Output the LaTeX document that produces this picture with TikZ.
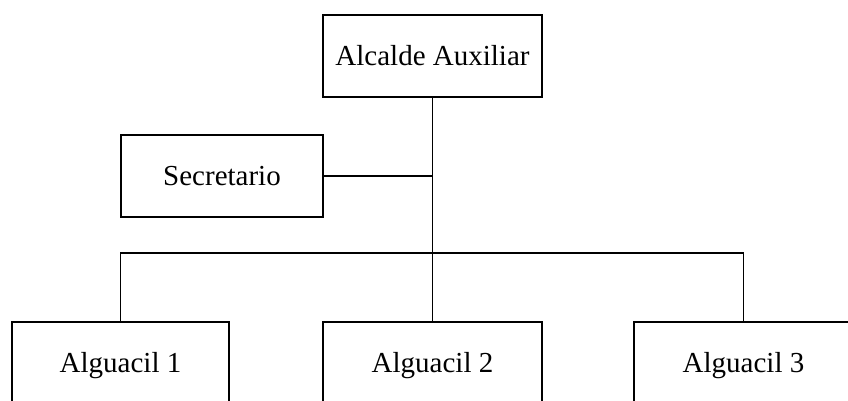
\documentclass[tikz,border=0pt]{standalone}
\usepackage{fontspec}
\setmainfont{Liberation Serif}
\begin{document}
\begin{tikzpicture}[x=1pt,y=-1pt,
  orgbox/.style={draw=black,line width=1.3pt,inner sep=0pt,minimum width=219pt,minimum height=82pt,
    text height=19.5pt,text depth=0pt,font=\fontsize{29}{35}\selectfont},
  conn/.style={draw=black,line width=1.3pt}]
\useasboundingbox (0,0) rectangle (848,400);
\clip (0,0) rectangle (848,400);
\fill[white] (0,0) rectangle (848,400);
\node[orgbox] (top) at (432.5,56) {Alcalde Auxiliar};
\node[orgbox,minimum width=202pt] (sec) at (222,176) {Secretario};
\node[orgbox,minimum width=217pt] (a1) at (120.5,363) {Alguacil 1};
\node[orgbox] (a2) at (432.5,363) {Alguacil 2};
\node[orgbox] (a3) at (743.5,363) {Alguacil 3};
\coordinate (bar) at (432.5,253);
\draw[conn] (top.south) -- (a2.north);
\draw[conn] (sec.east) -- (sec.east -| top.south);
\draw[conn] (a1.north) |- (bar) -| (a3.north);
\end{tikzpicture}
\end{document}
